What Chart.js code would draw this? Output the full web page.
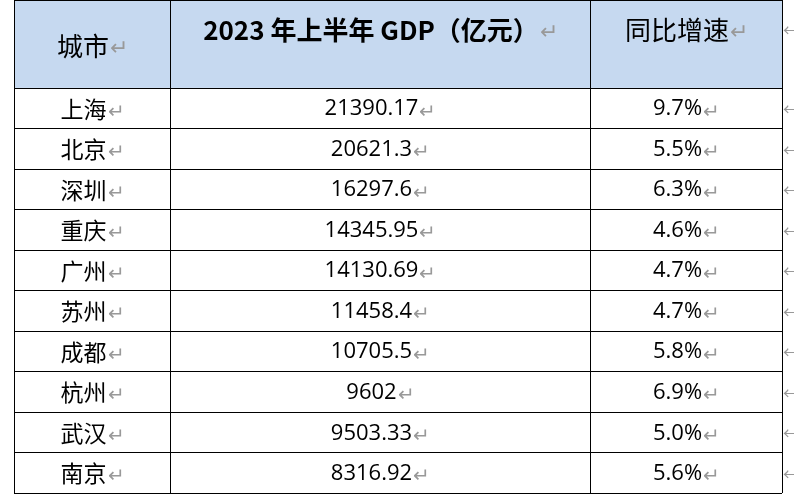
<!DOCTYPE html>
<html><head><meta charset="utf-8">
<script src="https://cdn.jsdelivr.net/npm/chart.js@4"></script>
<style>html,body{margin:0;background:#fff}#w{width:794px;height:500px}</style>
</head><body><div id="w"><canvas id="c"></canvas></div>
<script>
const headers = ["城市", "2023 年上半年 GDP（亿元）", "同比增速"];
const cities = ["上海","北京","深圳","重庆","广州","苏州","成都","杭州","武汉","南京"];
const gdp = ["21390.17","20621.3","16297.6","14345.95","14130.69","11458.4","10705.5","9602","9503.33","8316.92"];
const growth = ["9.7%","5.5%","6.3%","4.6%","4.7%","4.7%","5.8%","6.9%","5.0%","5.6%"];

const colEdges = [0, 156, 576, 768];
const HEAD = -2.17;
const F = '"Noto Sans CJK SC", "Noto Sans", sans-serif';

function txt(ctx, s, cx, cy, font, mk) {
  ctx.font = font;
  const mark = '↵';
  const w1 = ctx.measureText(s).width;
  ctx.font = mk + 'px ' + F;
  const w2 = ctx.measureText(mark).width;
  const x0 = cx - (w1 + w2) / 2;
  ctx.textBaseline = 'middle';
  ctx.textAlign = 'left';
  ctx.font = font; ctx.fillStyle = '#000';
  ctx.fillText(s, x0, cy);
  ctx.font = mk + 'px ' + F; ctx.fillStyle = '#999';
  ctx.fillText(mark, x0 + w1 + 1, cy + 1);
}

const tablePlugin = {
  id: 'table',
  afterDraw(chart) {
    const ctx = chart.ctx, X = chart.scales.x, Y = chart.scales.y;
    const xl = X.getPixelForValue(colEdges[0]), xr = X.getPixelForValue(colEdges[3]);
    const yt = Y.getPixelForValue(HEAD), y0 = Y.getPixelForValue(0), yb = Y.getPixelForValue(cities.length);
    ctx.save();
    ctx.fillStyle = '#C6D9F0';
    ctx.fillRect(xl, yt, xr - xl, y0 - yt);
    ctx.strokeStyle = '#000'; ctx.lineWidth = 1;
    ctx.beginPath();
    for (let i = 0; i <= cities.length; i++) {
      const y = Math.round(Y.getPixelForValue(i)) + 0.5;
      ctx.moveTo(xl, y); ctx.lineTo(xr, y);
    }
    ctx.moveTo(xl, Math.round(yt) + 0.5); ctx.lineTo(xr, Math.round(yt) + 0.5);
    colEdges.forEach(e => { const x = Math.round(X.getPixelForValue(e)) + 0.5; ctx.moveTo(x, yt); ctx.lineTo(x, yb); });
    ctx.stroke();
    const cx = i => (X.getPixelForValue(colEdges[i]) + X.getPixelForValue(colEdges[i + 1])) / 2;
    txt(ctx, headers[0], cx(0), (yt + y0) / 2 + 2, '26px ' + F, 22);
    txt(ctx, headers[1], cx(1), yt + 30, 'bold 26px ' + F, 22);
    txt(ctx, headers[2], cx(2), yt + 30, '26px ' + F, 22);
    ctx.font = '16px ' + F; ctx.fillStyle = '#999'; ctx.textAlign = 'left';
    ctx.fillText('←', xr + 1, yt + 30);
    for (let i = 0; i < cities.length; i++) {
      const cy = Y.getPixelForValue(i + 0.5) + 1;
      txt(ctx, cities[i], cx(0), cy, '23px ' + F, 20);
      txt(ctx, gdp[i], cx(1), cy, '22px "Open Sans", sans-serif', 20);
      txt(ctx, growth[i], cx(2), cy, '22px "Open Sans", sans-serif', 20);
      ctx.font = '16px ' + F; ctx.fillStyle = '#999'; ctx.textAlign = 'left';
      ctx.fillText('←', xr + 1, cy);
    }
    ctx.restore();
  }
};

new Chart(document.getElementById('c'), {
  type: 'scatter',
  data: { datasets: [{ data: cities.map((c, i) => ({ x: 0, y: i + 0.5 })), pointRadius: 0 }] },
  options: {
    responsive: true, maintainAspectRatio: false, animation: false,
    layout: { padding: { left: 14, right: 12, top: 0, bottom: 7 } },
    plugins: { legend: { display: false }, tooltip: { enabled: false } },
    scales: {
      x: { type: 'linear', min: colEdges[0], max: colEdges[3], display: false },
      y: { type: 'linear', min: HEAD, max: cities.length, reverse: true, display: false }
    }
  },
  plugins: [tablePlugin]
});
</script></body></html>
